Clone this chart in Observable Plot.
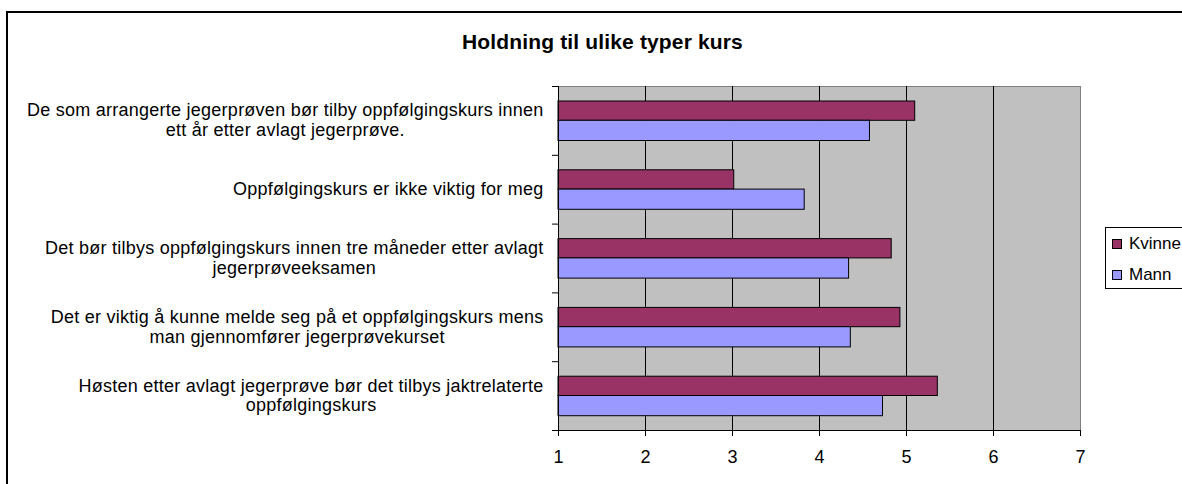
<!DOCTYPE html>
<html>
<head>
<meta charset="utf-8">
<script src="https://cdn.jsdelivr.net/npm/d3@7"></script>
<script src="https://cdn.jsdelivr.net/npm/@observablehq/plot@0.6"></script>
<style>
html,body{margin:0;padding:0;background:#fff;overflow:hidden;width:1182px;height:484px;}
#wrap{position:relative;width:1182px;height:484px;overflow:hidden;font-family:'Liberation Sans',Arial,sans-serif;color:#000;}
#border{position:absolute;left:6px;top:11px;width:1300px;height:600px;border:2px solid #000;box-sizing:border-box;}
#chart{position:absolute;left:0;top:0;}
#title{position:absolute;left:0;width:1205px;top:31px;text-align:center;font-weight:bold;font-size:21px;line-height:21px;letter-spacing:0.15px;white-space:nowrap;}
#legend{position:absolute;left:1105px;top:227px;width:200px;height:62px;border:1px solid #000;box-sizing:border-box;background:#fff;}
</style>
</head>
<body>
<div id="wrap">
  <div id="border"></div>
  <div id="chart"></div>
  <div id="title">Holdning til ulike typer kurs</div>
  <div id="legend"></div>
</div>
<script>
const categories = [
  "De som arrangerte jegerprøven bør tilby oppfølgingskurs innen\nett år etter avlagt jegerprøve.",
  "Oppfølgingskurs er ikke viktig for meg",
  "Det bør tilbys oppfølgingskurs innen tre måneder etter avlagt\njegerprøveeksamen",
  "Det er viktig å kunne melde seg på et oppfølgingskurs mens\nman gjennomfører jegerprøvekurset",
  "Høsten etter avlagt jegerprøve bør det tilbys jaktrelaterte\noppfølgingskurs"
];
const series = ["Kvinne", "Mann"];
const kvinne = [5.10, 3.02, 4.83, 4.93, 5.36];
const mann = [4.58, 3.83, 4.34, 4.36, 4.73];
const colors = ["#993366", "#9999ff"];
const xTicks = [1, 2, 3, 4, 5, 6, 7];
const xDomain = [1, 7];

const rows = categories.map((c, i) => ({c, i}));
const rowsK = categories.map((c, i) => ({c, i, v: kvinne[i]}));
const rowsM = categories.map((c, i) => ({c, i, v: mann[i]}));
const bounds = d3.range(categories.length + 1);

const plot = Plot.plot({
  width: 1182, height: 484,
  marginLeft: 558, marginRight: 102, marginTop: 86, marginBottom: 54,
  style: {fontFamily: "'Liberation Sans', Arial, sans-serif", fontSize: "18px", color: "#000", background: "transparent", overflow: "visible"},
  x: {domain: xDomain},
  y: {domain: [0, categories.length], reverse: true},
  marks: [
    Plot.frame({fill: "#c0c0c0", stroke: "#808080"}),
    Plot.ruleX(xTicks.slice(1, -1), {stroke: "#000", strokeWidth: 1}),
    Plot.rect(rowsK, {x1: xDomain[0], x2: "v", y1: "i", y2: d => d.i + 1, fill: colors[0], stroke: "#000", insetTop: 15, insetBottom: 34.5}),
    Plot.rect(rowsM, {x1: xDomain[0], x2: "v", y1: "i", y2: d => d.i + 1, fill: colors[1], stroke: "#000", insetTop: 34.3, insetBottom: 14.3}),
    Plot.ruleX([xDomain[0]], {stroke: "#000"}),
    Plot.ruleY([categories.length], {stroke: "#000"}),
    Plot.axisX({ticks: xTicks, tickSize: 6, tickPadding: 14, tickFormat: d => String(d), fontSize: 18, label: null}),
    Plot.axisY({ticks: bounds, tickSize: 6, tickFormat: () => "", label: null}),
    Plot.text(rows, {x: xDomain[0], y: d => d.i + 0.5, text: "c", textAnchor: "middle", lineAnchor: "middle", lineHeight: 1.11, fontSize: 18, dx: -15, dy: -1, fill: "#000"})
  ]
});
document.getElementById("chart").append(plot);

// right-align each label block while keeping its lines centred on each other
d3.select(plot).selectAll('g[aria-label="text"] text').each(function () {
  this.setAttribute("letter-spacing", "0.25");
  const w = this.getBBox().width;
  const t = this.getAttribute("transform") || "";
  this.setAttribute("transform", t + ` translate(${-w / 2},0)`);
});

// legend
const lg = d3.select("#legend").append("svg").attr("width", 200).attr("height", 62)
  .style("position", "absolute").style("left", "-1px").style("top", "-1px");
series.forEach((s, k) => {
  const g = lg.append("g").attr("transform", `translate(0,${k * 31})`);
  g.append("rect").attr("x", 7.5).attr("y", 12.5).attr("width", 9).attr("height", 9)
    .attr("fill", colors[k]).attr("stroke", "#000");
  g.append("text").attr("x", 24).attr("y", 21.5).attr("font-size", 17)
    .attr("font-family", "'Liberation Sans', Arial, sans-serif").text(s);
});
</script>
</body>
</html>
